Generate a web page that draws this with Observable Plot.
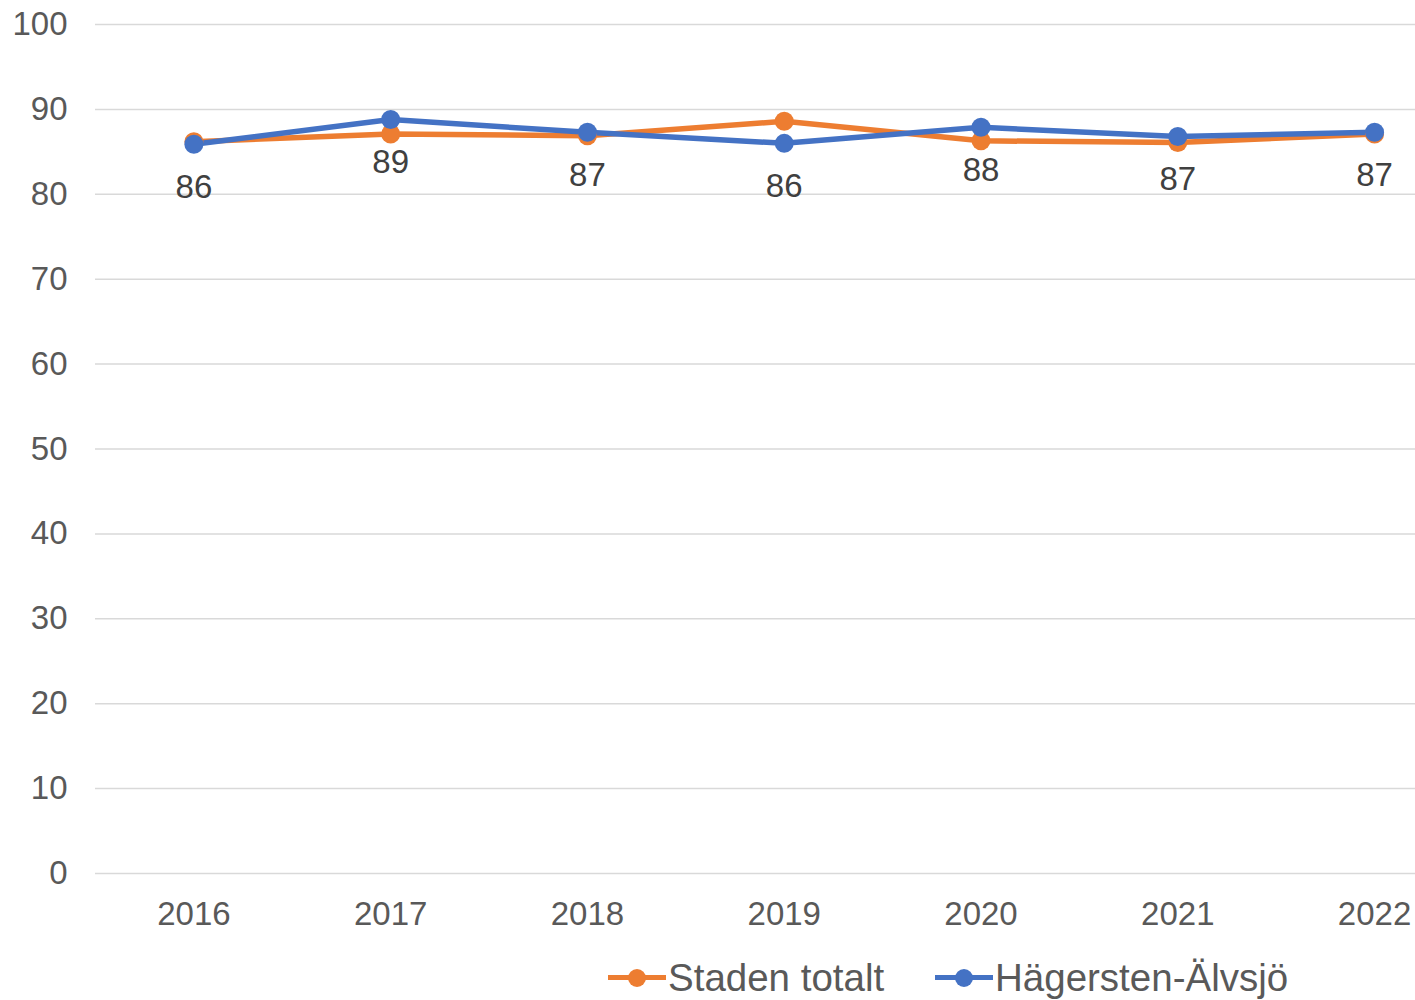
<!DOCTYPE html>
<html>
<head>
<meta charset="utf-8">
<script src="https://cdn.jsdelivr.net/npm/d3@7"></script>
<script src="https://cdn.jsdelivr.net/npm/@observablehq/plot@0.6"></script>
<style>
  html, body { margin: 0; padding: 0; background: #fff; }
  body { width: 1415px; height: 1000px; overflow: hidden; font-family: "Liberation Sans", Arial, sans-serif; }
  #chart svg { display: block; }
  #legend { position: relative; height: 55px; }
  .item { position: absolute; top: 5px; height: 55px; display: flex; align-items: center; font-size: 38.5px; color: #595959; }
  .sw { position: relative; width: 58px; height: 20px; margin-right: 2px; }
  .sw .ln { position: absolute; left: 0; right: 0; top: 7.5px; height: 5px; }
  .sw .dt { position: absolute; left: 20px; top: 1px; width: 18px; height: 18px; border-radius: 50%; }
</style>
</head>
<body>
<div id="chart"></div>
<div id="legend"></div>
<script>
const years = [2016, 2017, 2018, 2019, 2020, 2021, 2022];
const stadenTotalt = [86.2, 87.1, 86.9, 88.6, 86.3, 86.1, 87.1];
const hagerstenAlvsjo = [85.9, 88.8, 87.3, 86.0, 87.9, 86.8, 87.3];
const seriesNames = ["Staden totalt", "Hägersten-Älvsjö"];
const seriesColors = ["#ED7D31", "#4472C4"];
const yTicks = [0, 10, 20, 30, 40, 50, 60, 70, 80, 90, 100];

const data = [];
years.forEach((y, i) => {
  data.push({year: y, value: stadenTotalt[i], series: seriesNames[0]});
});
years.forEach((y, i) => {
  data.push({year: y, value: hagerstenAlvsjo[i], series: seriesNames[1]});
});
const blue = data.filter(d => d.series === seriesNames[1]);

const chart = Plot.plot({
  width: 1415,
  height: 945,
  marginLeft: 95,
  marginRight: 0,
  marginTop: 24,
  marginBottom: 72,
  style: {fontFamily: "Liberation Sans, Arial, sans-serif", fontSize: "33px", color: "#595959", background: "#fff"},
  x: {domain: [2015.5, 2022.208], ticks: years, tickFormat: d => String(d), tickSize: 0, tickPadding: 28, label: null},
  y: {domain: [0, 100], ticks: yTicks, tickSize: 0, tickPadding: 28, label: null},
  color: {domain: seriesNames, range: seriesColors},
  marks: [
    Plot.gridY(yTicks, {stroke: "#d9d9d9", strokeOpacity: 1, strokeWidth: 1.5}),
    Plot.axisX({ticks: years, tickFormat: d => String(d), tickSize: 0, tickPadding: 28, fill: "#595959", fontSize: 33}),
    Plot.axisY({ticks: yTicks, tickSize: 0, tickPadding: 28, fill: "#595959", fontSize: 33}),
    Plot.line(data, {x: "year", y: "value", z: "series", stroke: "series", strokeWidth: 5.5, strokeLinejoin: "round", strokeLinecap: "round"}),
    Plot.dot(data, {x: "year", y: "value", fill: "series", r: 9.5, stroke: null}),
    Plot.text(blue, {x: "year", y: "value", text: d => String(Math.round(d.value)), dy: 43, fill: "#404040", fontSize: 33})
  ]
});
document.getElementById("chart").appendChild(chart);

const legend = document.getElementById("legend");
const lefts = [608, 935];
seriesNames.forEach((name, i) => {
  const item = document.createElement("div");
  item.className = "item";
  item.style.left = lefts[i] + "px";
  item.innerHTML = `<div class="sw"><div class="ln" style="background:${seriesColors[i]}"></div><div class="dt" style="background:${seriesColors[i]}"></div></div><span>${name}</span>`;
  legend.appendChild(item);
});
</script>
</body>
</html>
